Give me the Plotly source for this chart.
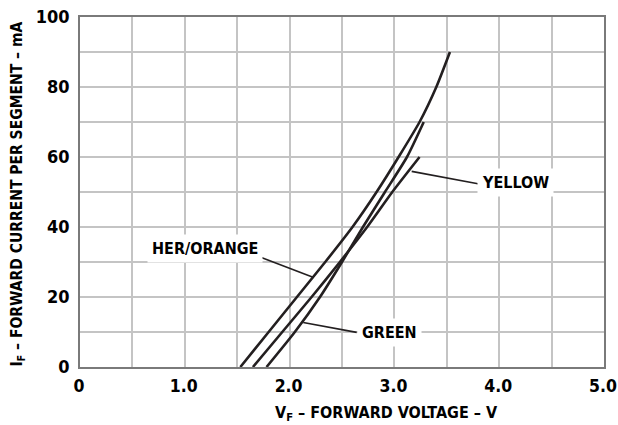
import plotly.graph_objects as go

# ---- data ----
her_v = [1.53, 1.80, 2.07, 2.34, 2.60, 2.83, 3.04, 3.24, 3.40, 3.53]
her_i = [0, 10, 20, 30, 40, 50, 60, 70, 80, 90]

yellow_v = [1.65, 1.93, 2.21, 2.48, 2.74, 2.98, 3.24]
yellow_i = [0, 10, 20, 30, 40, 50, 60]

green_v = [1.78, 2.05, 2.29, 2.50, 2.70, 2.91, 3.12, 3.28]
green_i = [0, 10, 20, 30, 40, 50, 60, 70]

x_tickvals = [0, 1, 2, 3, 4, 5]
x_ticktext = ["0", "1.0", "2.0", "3.0", "4.0", "5.0"]
y_tickvals = [0, 20, 40, 60, 80, 100]
y_ticktext = ["0", "20", "40", "60", "80", "100"]

# label text, label anchor (V, mA), leader line start/end (V, mA)
labels = ["HER/ORANGE", "YELLOW", "GREEN"]
label_x = [1.19, 4.16, 2.955]
label_y = [33.9, 52.6, 9.8]
leader_x0 = [1.73, 3.81, 2.64]
leader_y0 = [31.3, 52.3, 9.9]
leader_x1 = [2.23, 3.165, 2.13]
leader_y1 = [25.6, 55.9, 12.7]

x_title = "V<sub>F</sub> – FORWARD VOLTAGE – V"
y_title = "I<sub>F</sub> – FORWARD CURRENT PER SEGMENT – mA"

FONT = "DejaVu Sans Condensed, Liberation Sans, sans-serif"
INK = "#231f20"
GRID = "#c4c4c4"

fig = go.Figure()
for vs, cs in [(her_v, her_i), (yellow_v, yellow_i), (green_v, green_i)]:
    fig.add_trace(go.Scatter(x=vs, y=cs, mode="lines",
                             line=dict(color=INK, width=2.6, shape="spline", smoothing=0.6),
                             showlegend=False, hoverinfo="skip"))

for i in range(len(labels)):
    fig.add_shape(type="line", x0=leader_x0[i], y0=leader_y0[i], x1=leader_x1[i], y1=leader_y1[i],
                  xref="x", yref="y", line=dict(color=INK, width=1.6))
    fig.add_annotation(x=label_x[i], y=label_y[i], xref="x", yref="y", text="<b>%s</b>" % labels[i],
                       showarrow=False, bgcolor="white", borderpad=4,
                       font=dict(family=FONT, size=16, color="black"))

# axis titles placed as annotations (paper coords)
fig.add_annotation(x=0.585, y=-0.132, xref="paper", yref="paper", xanchor="center", yanchor="middle",
                   text="<b>%s</b>" % x_title, showarrow=False,
                   font=dict(family=FONT, size=16, color="black"))
fig.add_annotation(x=-0.118, y=0.493, xref="paper", yref="paper", xanchor="center", yanchor="middle",
                   text="<b>%s</b>" % y_title, showarrow=False, textangle=-90,
                   font=dict(family=FONT, size=15.5, color="black"))

fig.update_layout(
    width=618, height=425,
    margin=dict(l=80, r=14, t=17, b=58),
    paper_bgcolor="white", plot_bgcolor="white",
    font=dict(family=FONT, color="black"),
)
fig.update_xaxes(range=[0, 5], tickvals=x_tickvals, ticktext=["<b>%s</b>" % t for t in x_ticktext],
                 tickfont=dict(family=FONT, size=17.5, color="black"),
                 showgrid=True, gridcolor=GRID, gridwidth=1.5,
                 minor=dict(dtick=0.5, showgrid=True, gridcolor=GRID, gridwidth=1.5),
                 showline=True, mirror=True, linecolor="#7a7a7a", linewidth=1.6,
                 ticks="", zeroline=False, automargin=False, ticklabeloverflow="allow",
                 ticklabelstandoff=2, ticklabelshift=-1)
fig.update_yaxes(range=[0, 100], tickvals=y_tickvals, ticktext=["<b>%s</b>" % t for t in y_ticktext],
                 tickfont=dict(family=FONT, size=18, color="black"),
                 showgrid=True, gridcolor=GRID, gridwidth=1.5,
                 minor=dict(dtick=10, showgrid=True, gridcolor=GRID, gridwidth=1.5),
                 showline=True, mirror=True, linecolor="#7a7a7a", linewidth=1.6,
                 ticks="", zeroline=False, automargin=False, ticklabeloverflow="allow",
                 ticklabelstandoff=5)

# remove the default 8px page margin so the 618x425 figure fills the window exactly
fig.write_html("out.html", config={"displayModeBar": False},
               post_script="document.body.style.margin='0';document.body.style.overflow='hidden';")
